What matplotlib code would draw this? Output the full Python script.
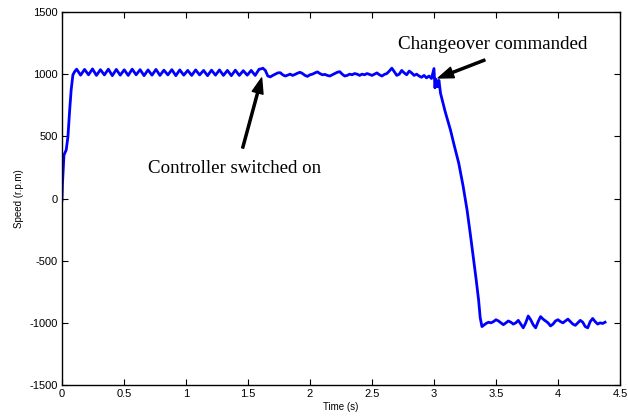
import matplotlib
matplotlib.use("Agg")
import matplotlib.pyplot as plt

plt.rcParams["axes.unicode_minus"] = False

# start-up: speed rises from rest to ~1000 r.p.m
rise_t = [0.0, 0.004, 0.016, 0.034, 0.048, 0.062, 0.074, 0.088, 0.102]
rise_v = [-15, 120, 350, 390, 497, 712, 873, 994, 1020]

# before the controller is switched on: steady oscillation
osc_t = [0.118, 0.150, 0.182, 0.214, 0.246, 0.278, 0.310, 0.342, 0.374, 0.406,
         0.438, 0.470, 0.502, 0.534, 0.566, 0.598, 0.630, 0.662, 0.694, 0.726,
         0.758, 0.790, 0.822, 0.854, 0.886, 0.918, 0.950, 0.982, 1.014, 1.046,
         1.078, 1.110, 1.142, 1.174, 1.206, 1.238, 1.270, 1.302, 1.334, 1.366,
         1.398, 1.430, 1.462, 1.494, 1.526, 1.558, 1.590]
osc_v = [1040, 992, 1038, 995, 1042, 990, 1036, 994, 1040, 988,
         1038, 992, 1035, 990, 1040, 995, 1036, 988, 1034, 992,
         1038, 990, 1032, 994, 1036, 988, 1034, 992, 1030, 990,
         1034, 994, 1030, 988, 1032, 992, 1034, 990, 1030, 988,
         1032, 990, 1028, 992, 1030, 990, 1040]

# controller on: noisy around 1000 r.p.m
on_t = [1.605, 1.62, 1.64, 1.66, 1.68,
        1.70, 1.72, 1.74, 1.76, 1.78, 1.80, 1.82, 1.84, 1.86, 1.88,
        1.90, 1.92, 1.94, 1.96, 1.98, 2.00, 2.02, 2.04, 2.06, 2.08,
        2.10, 2.12, 2.14, 2.16, 2.18, 2.20, 2.22, 2.24, 2.26, 2.28,
        2.30, 2.32, 2.34, 2.36, 2.38, 2.40, 2.42, 2.44, 2.46, 2.48,
        2.50, 2.52, 2.54, 2.56, 2.58, 2.60, 2.62, 2.64, 2.66, 2.68,
        2.70, 2.72, 2.74, 2.76, 2.78, 2.80, 2.82, 2.84, 2.86, 2.88,
        2.90, 2.92, 2.94, 2.96, 2.98]
on_v = [1042, 1048, 1030, 985, 978,
        990, 1000, 1010, 1012, 995, 985, 992, 1000, 990, 998,
        1008, 1015, 1005, 990, 982, 995, 1000, 1010, 1018, 1005,
        995, 998, 990, 985, 995, 1005, 1015, 1020, 1000, 985,
        990, 1000, 995, 1005, 1000, 990, 1000, 995, 1005, 998,
        990, 1000, 1010, 995, 985, 998, 1005, 1025, 1048, 1020,
        990, 1000, 1030, 1010, 995, 1025, 1010, 990, 1000, 985,
        975, 990, 970, 985, 965]

# changeover: reversal to -1000 r.p.m
rev_t = [3.00, 3.008, 3.015, 3.022, 3.03, 3.04, 3.053, 3.09, 3.133, 3.16,
         3.187, 3.20, 3.235, 3.267, 3.295, 3.32, 3.34, 3.36, 3.373, 3.387]
rev_v = [1045, 890, 960, 930, 899, 950, 846, 700, 551, 440,
         336, 283, 100, -93, -300, -495, -650, -817, -960, -1030]

# after reversal: noisy around -1000 r.p.m
neg_t = [3.40, 3.42, 3.44, 3.46, 3.48, 3.50, 3.52, 3.54, 3.56, 3.58,
         3.60, 3.62, 3.64, 3.66, 3.68, 3.70, 3.72, 3.74, 3.76, 3.78,
         3.80, 3.82, 3.84, 3.86, 3.88, 3.90, 3.92, 3.94, 3.96, 3.98,
         4.00, 4.02, 4.04, 4.06, 4.08, 4.10, 4.12, 4.14, 4.16, 4.18,
         4.20, 4.22, 4.24, 4.26, 4.28, 4.30, 4.32, 4.34, 4.36, 4.38]
neg_v = [-1020, -1005, -995, -1000, -990, -975, -985, -1000, -1015, -1000,
         -985, -995, -1010, -1000, -980, -1010, -1040, -1000, -945, -975,
         -1015, -1040, -990, -950, -970, -985, -1000, -1025, -1010, -985,
         -975, -990, -1000, -985, -970, -990, -1010, -1020, -1000, -980,
         -995, -1030, -1040, -990, -965, -990, -1010, -1000, -1005, -995]

time = rise_t + osc_t + on_t + rev_t + neg_t
speed = rise_v + osc_v + on_v + rev_v + neg_v

x_ticks = [0, 0.5, 1, 1.5, 2, 2.5, 3, 3.5, 4, 4.5]
x_labels = ["0", "0.5", "1", "1.5", "2", "2.5", "3", "3.5", "4", "4.5"]
y_ticks = [-1500, -1000, -500, 0, 500, 1000, 1500]

fig = plt.figure(figsize=(6.28, 4.19), dpi=100)
ax = fig.add_axes([0.0987, 0.0811, 0.8885, 0.8903])

ax.plot(time, speed, color="#0000ff", lw=2.0)

ax.set_xlim(0, 4.5)
ax.set_ylim(-1500, 1500)
ax.set_xticks(x_ticks)
ax.set_xticklabels(x_labels)
ax.set_yticks(y_ticks)
ax.tick_params(direction="in", length=4, width=0.8, labelsize=8,
               top=True, right=True, pad=3)
for lbl in ax.get_xticklabels() + ax.get_yticklabels():
    lbl.set_family("Liberation Sans")
for sp in ax.spines.values():
    sp.set_linewidth(1.0)

ax.set_xlabel("Time (s)", fontsize=7, family="Liberation Sans", labelpad=2)
ax.set_ylabel("Speed (r.p.m)", fontsize=7, family="Liberation Sans", labelpad=4)

arrow = dict(facecolor="black", edgecolor="black", width=1.5,
             headwidth=8, headlength=11, shrink=0)
ax.annotate("", xy=(1.61, 969), xytext=(1.457, 406), arrowprops=arrow)
ax.text(1.39, 245, "Controller switched on", ha="center", va="center",
        fontsize=13.6, family="Liberation Serif")
ax.annotate("", xy=(3.034, 969), xytext=(3.41, 1114), arrowprops=arrow)
ax.text(3.47, 1235, "Changeover commanded", ha="center", va="center",
        fontsize=13.7, family="Liberation Serif")

fig.savefig("out.png", dpi=100)
